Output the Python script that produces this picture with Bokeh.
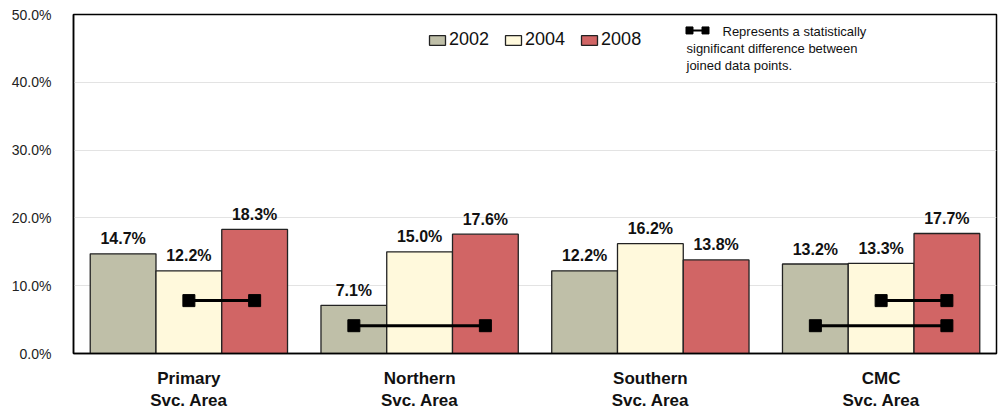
from bokeh.plotting import figure
from bokeh.models import (ColumnDataSource, FixedTicker, PrintfTickFormatter, Legend,
                          LegendItem, Label, Range1d)
from bokeh.core.properties import value
from bokeh.embed import file_html
from bokeh.resources import INLINE

categories = ["Primary\nSvc. Area", "Northern\nSvc. Area", "Southern\nSvc. Area", "CMC\nSvc. Area"]
years = ["2002", "2004", "2008"]
v2002 = [14.7, 7.1, 12.2, 13.2]
v2004 = [12.2, 15.0, 16.2, 13.3]
v2008 = [18.3, 17.6, 13.8, 17.7]
colors = ["#BFBFA8", "#FFF9DC", "#D16565"]
y_ticks = [0, 10, 20, 30, 40, 50]

# significance pairs: (category index, year index from, year index to, height in %)
sig_cat = [0, 1, 3, 3]
sig_from = [1, 0, 1, 0]
sig_to = [2, 2, 2, 2]
sig_y = [7.8, 4.1, 7.8, 4.1]

FONT = "Liberation Sans"

W = 0.285
offsets = [-W, 0.0, W]
series = [v2002, v2004, v2008]

p = figure(width=998, height=413, output_backend="svg", toolbar_location=None,
           x_range=Range1d(0, 4), y_range=Range1d(0, 50),
           min_border_left=73, min_border_right=2, min_border_top=14, min_border_bottom=59)

renderers = []
for i, (vals, col, yr) in enumerate(zip(series, colors, years)):
    xs = [c + 0.5 + offsets[i] for c in range(len(categories))]
    src = ColumnDataSource(dict(x=xs, top=vals,
                                lab=["%.1f%%" % v for v in vals]))
    r = p.vbar(x="x", top="top", width=W, bottom=0, source=src, fill_color=col,
               line_color="#222222", line_width=1.3)
    renderers.append((yr, r))
    p.text(x="x", y="top", text="lab", source=src, text_align="center",
           text_baseline="alphabetic", y_offset=-15, text_font=value(FONT),
           text_font_style="bold", text_font_size="16px", text_color="#111111")

# significance markers
x0 = [c + 0.5 + offsets[a] for c, a in zip(sig_cat, sig_from)]
x1 = [c + 0.5 + offsets[b] for c, b in zip(sig_cat, sig_to)]
p.segment(x0=x0, y0=sig_y, x1=x1, y1=sig_y, line_color="black", line_width=3)
p.scatter(x=x0 + x1, y=sig_y + sig_y, marker="square", size=12,
          fill_color="black", line_color="black")

# legend
legend = Legend(items=[LegendItem(label=yr, renderers=[r]) for yr, r in renderers],
                orientation="horizontal", location=(354, 303),
                glyph_width=20, glyph_height=12, label_standoff=2, spacing=14,
                padding=0, margin=0, border_line_color=None, background_fill_alpha=0,
                label_text_font=FONT, label_text_font_size="18px", label_height=18,
                label_text_color="#111111")
p.add_layout(legend, "center")

# note with icon
px = 230.75  # pixels per category unit
py = 6.8     # pixels per percent
ix0 = (686 - 73) / px
ix1 = (708 - 73) / px
iy = (354 - 30) / py
p.segment(x0=[ix0], y0=[iy], x1=[ix1], y1=[iy], line_color="black", line_width=2)
p.scatter(x=[ix0 + 0.013, ix1 - 0.013], y=[iy, iy], marker="square", size=7,
          fill_color="black", line_color="black")
note_font = "13px"
for tx, ty, t in [(722, 31, "Represents a statistically"),
                  (686, 48, "significant difference between"),
                  (686, 65, "joined data points.")]:
    p.add_layout(Label(x=(tx - 73) / px, y=(354 - ty) / py, text=t,
                       text_font=FONT, text_font_size=note_font,
                       text_baseline="alphabetic", text_color="#111111"))

# axes
p.xaxis.ticker = FixedTicker(ticks=[c + 0.5 for c in range(len(categories))])
p.xaxis.major_label_overrides = {c + 0.5: lab for c, lab in enumerate(categories)}
p.xaxis.major_label_text_font = FONT
p.xaxis.major_label_text_font_style = "bold"
p.xaxis.major_label_text_font_size = "17px"
p.xaxis.major_label_text_color = "#111111"
p.xaxis.major_label_standoff = 15
p.xaxis.major_tick_line_color = None
p.xaxis.minor_tick_line_color = None
p.xaxis.major_tick_out = 0
p.xaxis.major_tick_in = 0
p.xaxis.minor_tick_out = 0
p.xaxis.axis_line_color = "black"
p.xaxis.axis_line_width = 1.5

p.yaxis.ticker = FixedTicker(ticks=y_ticks)
p.yaxis.formatter = PrintfTickFormatter(format="%.1f%%")
p.yaxis.major_label_text_font = FONT
p.yaxis.major_label_text_font_size = "14px"
p.yaxis.major_label_text_color = "#222222"
p.yaxis.major_label_standoff = 22
p.yaxis.major_tick_line_color = None
p.yaxis.minor_tick_line_color = None
p.yaxis.major_tick_out = 0
p.yaxis.major_tick_in = 0
p.yaxis.minor_tick_out = 0
p.yaxis.axis_line_color = "black"
p.yaxis.axis_line_width = 1.5

p.xgrid.grid_line_color = None
p.ygrid.grid_line_color = "#E3E3E3"
p.ygrid.grid_line_width = 1

p.outline_line_color = "black"
p.outline_line_width = 1.5
p.background_fill_color = "white"
p.border_fill_color = "white"

open("out.html", "w").write(file_html(p, INLINE))
